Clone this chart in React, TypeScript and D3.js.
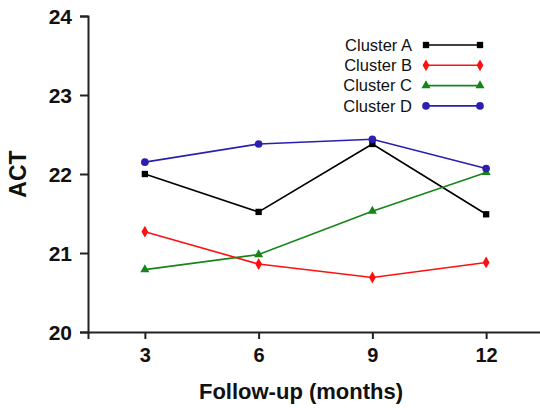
import React, { useRef, useEffect } from 'react';
import * as d3 from 'd3';

const months = [3, 6, 9, 12];
const clusterA = [22.0, 21.52, 22.38, 21.49];
const clusterB = [21.27, 20.86, 20.69, 20.88];
const clusterC = [20.79, 20.98, 21.53, 22.02];
const clusterD = [22.15, 22.38, 22.44, 22.07];
const yTicks = [20, 21, 22, 23, 24];

const series = [
  { name: 'Cluster A', values: clusterA, color: '#000000', symbol: d3.symbolSquare, size: 40 },
  { name: 'Cluster B', values: clusterB, color: '#ff1010', symbol: d3.symbolDiamond, size: 40 },
  { name: 'Cluster C', values: clusterC, color: '#15851a', symbol: d3.symbolTriangle, size: 36 },
  { name: 'Cluster D', values: clusterD, color: '#2a1fb0', symbol: d3.symbolCircle, size: 46 },
];

function App() {
  const svgRef = useRef(null);

  useEffect(() => {
    const svg = d3.select(svgRef.current);
    svg.selectAll('*').remove();
    const font = 'Arial, "Liberation Sans", sans-serif';

    const x = d3.scaleLinear().domain([1.5, 13.5]).range([88, 543]);
    const y = d3.scaleLinear().domain([20, 24]).range([332, 16]);

    // axes
    const xAxis = svg.append('g')
      .attr('transform', 'translate(0,332)')
      .call(d3.axisBottom(x).tickValues(months).tickFormat(d3.format('d')).tickSize(7).tickPadding(9));
    const yAxis = svg.append('g')
      .attr('transform', 'translate(88,0)')
      .call(d3.axisLeft(y).tickValues(yTicks).tickFormat(d3.format('d')).tickSize(8).tickPadding(8));

    [xAxis, yAxis].forEach(g => {
      g.attr('font-family', null).attr('font-size', null);
      g.select('.domain').attr('stroke', '#222').attr('stroke-width', 2);
      g.selectAll('.tick line').attr('stroke', '#222').attr('stroke-width', 2);
      g.selectAll('.tick text')
        .attr('fill', '#111')
        .style('font-family', font)
        .style('font-weight', 'bold');
    });
    xAxis.selectAll('.tick text').style('font-size', '20px');
    yAxis.selectAll('.tick text').style('font-size', '21px').attr('dy', '0.36em');

    // axis titles
    svg.append('text')
      .attr('x', 301).attr('y', 399)
      .attr('text-anchor', 'middle')
      .style('font-family', font).style('font-weight', 'bold').style('font-size', '22px')
      .attr('fill', '#111')
      .text('Follow-up (months)');
    svg.append('text')
      .attr('transform', 'translate(26,174) rotate(-90)')
      .attr('text-anchor', 'middle')
      .style('font-family', font).style('font-weight', 'bold').style('font-size', '23px')
      .attr('fill', '#111')
      .text('ACT');

    const line = d3.line<number>()
      .x((d, i) => x(months[i]))
      .y(d => y(d));

    series.forEach(s => {
      svg.append('path')
        .datum(s.values)
        .attr('fill', 'none')
        .attr('stroke', s.color)
        .attr('stroke-width', 1.6)
        .attr('d', line);
      svg.selectAll(null)
        .data(s.values)
        .enter()
        .append('path')
        .attr('d', d3.symbol().type(s.symbol).size(s.size))
        .attr('transform', (d, i) => `translate(${x(months[i])},${y(d)})`)
        .attr('fill', s.color);
    });

    // legend
    const legend = svg.append('g');
    series.forEach((s, i) => {
      const ly = 45 + i * 20.3;
      legend.append('text')
        .attr('x', 412).attr('y', ly)
        .attr('dy', '0.35em')
        .attr('text-anchor', 'end')
        .style('font-family', font).style('font-size', '16.5px')
        .attr('fill', '#111')
        .text(s.name);
      legend.append('line')
        .attr('x1', 426).attr('x2', 480)
        .attr('y1', ly).attr('y2', ly)
        .attr('stroke', s.color).attr('stroke-width', 1.6);
      [426, 480].forEach(lx => {
        legend.append('path')
          .attr('d', d3.symbol().type(s.symbol).size(s.size))
          .attr('transform', `translate(${lx},${ly})`)
          .attr('fill', s.color);
      });
    });
  }, []);

  return (
    <svg ref={svgRef} width={540} height={408}
      style={{ position: 'absolute', left: 0, top: 0, background: '#fff' }} />
  );
}

export default App;
